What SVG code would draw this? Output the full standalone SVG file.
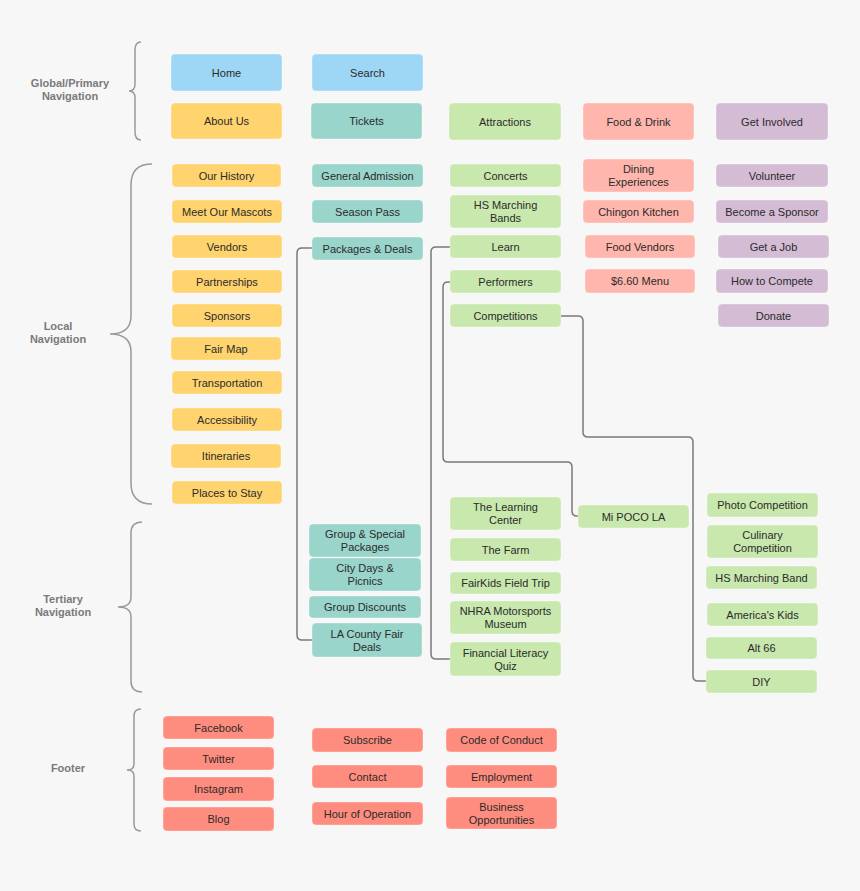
<svg xmlns="http://www.w3.org/2000/svg" width="860" height="891" viewBox="0 0 860 891">
<style>
.bg{fill:#f7f7f7}
.n rect{rx:4;ry:4;stroke:#ffffff;stroke-opacity:0.35;stroke-width:1}
.n text{font-family:"Liberation Sans",Arial,sans-serif;font-size:11px;fill:#2b2b2b;text-anchor:middle}
.blue rect{fill:#9dd7f5}
.yel rect{fill:#ffd36e}
.teal rect{fill:#99d5cb}
.grn rect{fill:#c8e8ad}
.sal rect{fill:#ffb6ad}
.pur rect{fill:#d3bcd4}
.red rect{fill:#ff8d7f}
.lbl{font-family:"Liberation Sans",Arial,sans-serif;font-size:11px;font-weight:bold;fill:#7a7a7a;text-anchor:middle}
.brace{fill:none;stroke:#9a9a9a;stroke-width:1.5}
.conn path{fill:none;stroke:#7a7a7a;stroke-width:1.5}
</style>
<rect class="bg" x="0" y="0" width="860" height="891"/>

<g id="section-labels">
<text class="lbl" x="70" y="87">Global/Primary</text>
<text class="lbl" x="70" y="100">Navigation</text>
<text class="lbl" x="58" y="330">Local</text>
<text class="lbl" x="58" y="343">Navigation</text>
<text class="lbl" x="63" y="603">Tertiary</text>
<text class="lbl" x="63" y="616">Navigation</text>
<text class="lbl" x="68" y="772">Footer</text>
</g>

<g id="braces">
<path class="brace" d="M141,42 Q135,42 135,50 L135,84 Q135,91 129,91 Q135,91 135,98 L135,132 Q135,140 141,140"/>
<path class="brace" d="M152,164 Q131,164 131,185 L131,316 Q131,334 110,334 Q131,334 131,352 L131,483 Q131,504 152,504"/>
<path class="brace" d="M142,522 Q131,522 131,533 L131,597 Q131,607 118,607 Q131,607 131,617 L131,681 Q131,692 142,692"/>
<path class="brace" d="M141,709 Q134,709 134,716 L134,764 Q134,770 127,770 Q134,770 134,776 L134,824 Q134,831 141,831"/>
</g>

<g id="connectors" class="conn">
<path d="M312,248 L302,248 Q297,248 297,253 L297,635 Q297,640 302,640 L312,640"/>
<path d="M450,247 L436,247 Q431,247 431,252 L431,654 Q431,659 436,659 L450,659"/>
<path d="M450,282 L448,282 Q443,282 443,287 L443,457 Q443,462 448,462 L567,462 Q572,462 572,467 L572,511 Q572,516 577,516 L578,516"/>
<path d="M561,316 L578,316 Q583,316 583,321 L583,432 Q583,437 588,437 L688,437 Q693,437 693,442 L693,676 Q693,681 698,681 L706,681"/>
</g>

<!-- Global -->
<g id="home" class="n blue"><rect x="171" y="54" width="111" height="37"/><text x="226.5" y="76.5">Home</text></g>
<g id="search" class="n blue"><rect x="312" y="54" width="111" height="37"/><text x="367.5" y="76.5">Search</text></g>
<g id="about-us" class="n yel"><rect x="171" y="103" width="111" height="36"/><text x="226.5" y="125">About Us</text></g>
<g id="tickets" class="n teal"><rect x="311" y="103" width="111" height="36"/><text x="366.5" y="125">Tickets</text></g>
<g id="attractions" class="n grn"><rect x="449" y="103" width="112" height="37"/><text x="505" y="125.5">Attractions</text></g>
<g id="food-drink" class="n sal"><rect x="583" y="103" width="111" height="37"/><text x="638.5" y="125.5">Food &amp; Drink</text></g>
<g id="get-involved" class="n pur"><rect x="716" y="103" width="112" height="37"/><text x="772" y="125.5">Get Involved</text></g>

<!-- Local: yellow -->
<g id="our-history" class="n yel"><rect x="172" y="164" width="109" height="23"/><text x="226.5" y="179.5">Our History</text></g>
<g id="meet-our-mascots" class="n yel"><rect x="172" y="200" width="110" height="23"/><text x="227" y="215.5">Meet Our Mascots</text></g>
<g id="vendors" class="n yel"><rect x="172" y="235" width="110" height="23"/><text x="227" y="250.5">Vendors</text></g>
<g id="partnerships" class="n yel"><rect x="172" y="270" width="110" height="23"/><text x="227" y="285.5">Partnerships</text></g>
<g id="sponsors" class="n yel"><rect x="172" y="304" width="110" height="23"/><text x="227" y="319.5">Sponsors</text></g>
<g id="fair-map" class="n yel"><rect x="171" y="337" width="110" height="23"/><text x="226" y="352.5">Fair Map</text></g>
<g id="transportation" class="n yel"><rect x="172" y="371" width="110" height="23"/><text x="227" y="386.5">Transportation</text></g>
<g id="accessibility" class="n yel"><rect x="172" y="408" width="110" height="23"/><text x="227" y="423.5">Accessibility</text></g>
<g id="itineraries" class="n yel"><rect x="171" y="444" width="110" height="24"/><text x="226" y="460">Itineraries</text></g>
<g id="places-to-stay" class="n yel"><rect x="172" y="481" width="110" height="23"/><text x="227" y="496.5">Places to Stay</text></g>

<!-- Local: teal -->
<g id="general-admission" class="n teal"><rect x="312" y="164" width="111" height="23"/><text x="367.5" y="179.5">General Admission</text></g>
<g id="season-pass" class="n teal"><rect x="312" y="200" width="111" height="23"/><text x="367.5" y="215.5">Season Pass</text></g>
<g id="packages-deals" class="n teal"><rect x="312" y="237" width="111" height="23"/><text x="367.5" y="252.5">Packages &amp; Deals</text></g>

<!-- Local: green -->
<g id="concerts" class="n grn"><rect x="450" y="164" width="111" height="23"/><text x="505.5" y="179.5">Concerts</text></g>
<g id="hs-marching-bands" class="n grn"><rect x="450" y="195" width="111" height="33"/><text x="505.5" y="209">HS Marching</text><text x="505.5" y="222">Bands</text></g>
<g id="learn" class="n grn"><rect x="450" y="235" width="111" height="23"/><text x="505.5" y="250.5">Learn</text></g>
<g id="performers" class="n grn"><rect x="450" y="270" width="111" height="23"/><text x="505.5" y="285.5">Performers</text></g>
<g id="competitions" class="n grn"><rect x="450" y="304" width="111" height="23"/><text x="505.5" y="319.5">Competitions</text></g>

<!-- Local: salmon -->
<g id="dining-experiences" class="n sal"><rect x="583" y="159" width="111" height="33"/><text x="638.5" y="173">Dining</text><text x="638.5" y="186">Experiences</text></g>
<g id="chingon-kitchen" class="n sal"><rect x="583" y="200" width="111" height="23"/><text x="638.5" y="215.5">Chingon Kitchen</text></g>
<g id="food-vendors" class="n sal"><rect x="585" y="235" width="110" height="23"/><text x="640" y="250.5">Food Vendors</text></g>
<g id="menu-660" class="n sal"><rect x="585" y="269" width="110" height="24"/><text x="640" y="285">$6.60 Menu</text></g>

<!-- Local: purple -->
<g id="volunteer" class="n pur"><rect x="716" y="164" width="112" height="23"/><text x="772" y="179.5">Volunteer</text></g>
<g id="become-a-sponsor" class="n pur"><rect x="716" y="200" width="112" height="23"/><text x="772" y="215.5">Become a Sponsor</text></g>
<g id="get-a-job" class="n pur"><rect x="718" y="235" width="111" height="23"/><text x="773.5" y="250.5">Get a Job</text></g>
<g id="how-to-compete" class="n pur"><rect x="716" y="269" width="112" height="24"/><text x="772" y="285">How to Compete</text></g>
<g id="donate" class="n pur"><rect x="718" y="304" width="111" height="23"/><text x="773.5" y="319.5">Donate</text></g>

<!-- Tertiary: teal -->
<g id="group-special-packages" class="n teal"><rect x="309" y="524" width="112" height="33"/><text x="365" y="538">Group &amp; Special</text><text x="365" y="551">Packages</text></g>
<g id="city-days-picnics" class="n teal"><rect x="309" y="558" width="112" height="33"/><text x="365" y="572">City Days &amp;</text><text x="365" y="585">Picnics</text></g>
<g id="group-discounts" class="n teal"><rect x="309" y="596" width="112" height="22"/><text x="365" y="611">Group Discounts</text></g>
<g id="la-county-fair-deals" class="n teal"><rect x="312" y="623" width="110" height="34"/><text x="367" y="637.5">LA County Fair</text><text x="367" y="650.5">Deals</text></g>

<!-- Tertiary: green -->
<g id="the-learning-center" class="n grn"><rect x="450" y="497" width="111" height="33"/><text x="505.5" y="511">The Learning</text><text x="505.5" y="524">Center</text></g>
<g id="the-farm" class="n grn"><rect x="450" y="538" width="111" height="23"/><text x="505.5" y="553.5">The Farm</text></g>
<g id="fairkids-field-trip" class="n grn"><rect x="450" y="572" width="111" height="22"/><text x="505.5" y="587">FairKids Field Trip</text></g>
<g id="nhra-motorsports-museum" class="n grn"><rect x="450" y="601" width="111" height="33"/><text x="505.5" y="615">NHRA Motorsports</text><text x="505.5" y="628">Museum</text></g>
<g id="financial-literacy-quiz" class="n grn"><rect x="450" y="642" width="111" height="34"/><text x="505.5" y="656.5">Financial Literacy</text><text x="505.5" y="669.5">Quiz</text></g>
<g id="mi-poco-la" class="n grn"><rect x="578" y="505" width="111" height="23"/><text x="633.5" y="520.5">Mi POCO LA</text></g>

<g id="photo-competition" class="n grn"><rect x="707" y="493" width="111" height="24"/><text x="762.5" y="509">Photo Competition</text></g>
<g id="culinary-competition" class="n grn"><rect x="707" y="525" width="111" height="33"/><text x="762.5" y="539">Culinary</text><text x="762.5" y="552">Competition</text></g>
<g id="hs-marching-band" class="n grn"><rect x="706" y="566" width="111" height="23"/><text x="761.5" y="581.5">HS Marching Band</text></g>
<g id="americas-kids" class="n grn"><rect x="707" y="603" width="111" height="23"/><text x="762.5" y="618.5">America's Kids</text></g>
<g id="alt-66" class="n grn"><rect x="706" y="637" width="111" height="22"/><text x="761.5" y="652">Alt 66</text></g>
<g id="diy" class="n grn"><rect x="706" y="670" width="111" height="23"/><text x="761.5" y="685.5">DIY</text></g>

<!-- Footer -->
<g id="facebook" class="n red"><rect x="163" y="716" width="111" height="23"/><text x="218.5" y="731.5">Facebook</text></g>
<g id="twitter" class="n red"><rect x="163" y="747" width="111" height="23"/><text x="218.5" y="762.5">Twitter</text></g>
<g id="instagram" class="n red"><rect x="163" y="777" width="111" height="24"/><text x="218.5" y="793">Instagram</text></g>
<g id="blog" class="n red"><rect x="163" y="807" width="111" height="24"/><text x="218.5" y="823">Blog</text></g>
<g id="subscribe" class="n red"><rect x="312" y="728" width="111" height="24"/><text x="367.5" y="744">Subscribe</text></g>
<g id="contact" class="n red"><rect x="312" y="765" width="111" height="23"/><text x="367.5" y="780.5">Contact</text></g>
<g id="hour-of-operation" class="n red"><rect x="312" y="802" width="111" height="23"/><text x="367.5" y="817.5">Hour of Operation</text></g>
<g id="code-of-conduct" class="n red"><rect x="446" y="728" width="111" height="24"/><text x="501.5" y="744">Code of Conduct</text></g>
<g id="employment" class="n red"><rect x="446" y="765" width="111" height="23"/><text x="501.5" y="780.5">Employment</text></g>
<g id="business-opportunities" class="n red"><rect x="446" y="797" width="111" height="32"/><text x="501.5" y="810.5">Business</text><text x="501.5" y="823.5">Opportunities</text></g>
</svg>
